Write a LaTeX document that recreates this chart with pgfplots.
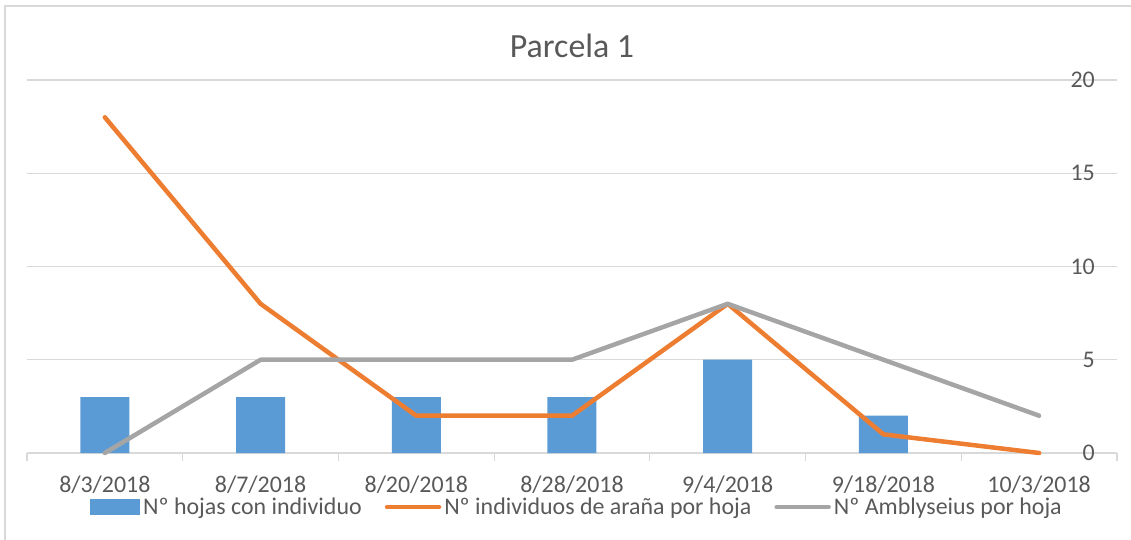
\documentclass[border=0pt]{standalone}
\usepackage{pgfplots}
\pgfplotsset{compat=1.18}
\usepackage{fontspec}
\setmainfont{Carlito}
\definecolor{barblue}{HTML}{5B9BD5}
\definecolor{lineorange}{HTML}{ED7D31}
\definecolor{linegray}{HTML}{A5A5A5}
\definecolor{gridgray}{HTML}{D9D9D9}
\definecolor{textgray}{HTML}{595959}
\begin{document}
\begin{tikzpicture}
\useasboundingbox (-27bp,-87bp) rectangle (1104bp,453bp);
\draw[gridgray, line width=2bp] (-22bp,-87bp) -- (-22bp,447bp) -- (1104bp,447bp);
\begin{axis}[
  scale only axis,
  width=1090bp, height=373bp,
  xmin=-0.5, xmax=6.5,
  ymin=0, ymax=20,
  axis x line=bottom,
  axis y line=right,
  x axis line style={-, draw=gridgray, line width=1.2bp},
  y axis line style={draw=none},
  xtick={0,...,6},
  xticklabels={8/3/2018,8/7/2018,8/20/2018,8/28/2018,9/4/2018,9/18/2018,10/3/2018},
  minor xtick={-0.5,0.5,...,6.5},
  major tick length=0pt,
  minor tick length=8bp,
  tick align=outside,
  minor tick style={draw=gridgray, line width=1.2bp},
  ytick={0,5,10,15,20},
  ymajorgrids,
  grid style={draw=gridgray, line width=1.2bp},
  /pgf/number format/assume math mode=true,
  tick label style={text=textgray, font=\fontsize{24}{28}\selectfont},
  xticklabel style={anchor=base, yshift=-39bp, text depth=0pt},
  yticklabel style={anchor=east, inner sep=0pt, xshift=-22bp},
  title={Parcela 1},
  title style={at={(0.5,1)}, anchor=base, yshift=17bp, text=textgray, font=\fontsize{34}{40}\selectfont},
  legend columns=3,
  legend style={draw=none, fill=none, at={(0.505,-0.145)}, anchor=center,
    text=textgray, font=\fontsize{24}{28}\selectfont,
    /tikz/every even column/.append style={column sep=20bp},
    nodes={inner xsep=3bp, inner ysep=0pt}},
  clip=false,
]
\addplot[ybar, bar width=49bp, fill=barblue, draw=none,
  legend image code/.code={\fill[barblue] (0bp,-8bp) rectangle (50bp,8bp);}]
  coordinates {(0,3) (1,3) (2,3) (3,3) (4,5) (5,2)};
\addlegendentry{Nº hojas con individuo}
\addplot[lineorange, line width=4.5bp, line join=round, line cap=round,
  legend image code/.code={\draw[lineorange, line width=4.5bp, line cap=round] (0bp,0bp) -- (52bp,0bp);}]
  coordinates {(0,18) (1,8) (2,2) (3,2) (4,8) (5,1) (6,0)};
\addlegendentry{Nº individuos de araña por hoja}
\addplot[linegray, line width=4.5bp, line join=round, line cap=round,
  legend image code/.code={\draw[linegray, line width=4.5bp, line cap=round] (0bp,0bp) -- (52bp,0bp);}]
  coordinates {(0,0) (1,5) (2,5) (3,5) (4,8) (5,5) (6,2)};
\addlegendentry{Nº Amblyseius por hoja}
\end{axis}
\end{tikzpicture}
\end{document}
